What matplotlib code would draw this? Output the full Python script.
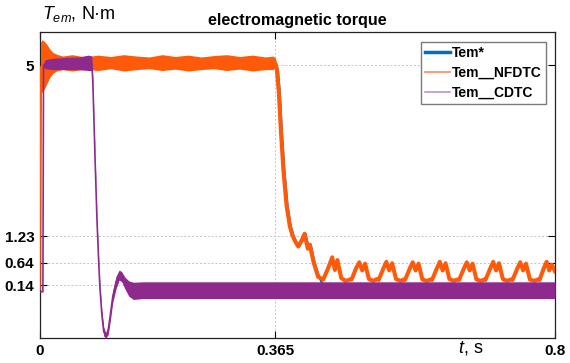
import matplotlib
matplotlib.use("Agg")
import matplotlib.pyplot as plt
from matplotlib.lines import Line2D

plt.rcParams['font.family'] = ['Liberation Sans', 'DejaVu Sans']
plt.rcParams['mathtext.fontset'] = 'custom'
plt.rcParams['mathtext.it'] = 'Liberation Sans:italic'
plt.rcParams['mathtext.rm'] = 'Liberation Sans'

# Tem* reference (mostly hidden under the other traces)
ref_t = [0.0, 0.001, 0.3665, 0.3695, 0.3725, 0.3755, 0.3795, 0.3845, 0.3895, 0.3935,
         0.3975, 0.4025, 0.4075, 0.4125, 0.4175, 0.4205, 0.4265, 0.4335, 0.441, 0.8]
ref_y = [0.0, 5.0, 5.05, 4.9, 4.4, 3.6, 2.7, 1.9, 1.45, 1.25,
         1.12, 1.0, 1.12, 1.28, 0.95, 1.04, 0.65, 0.33, 0.1, 0.1]

# Tem__NFDTC : ripple band before the load change
nf_band_t = [0.0, 0.0008, 0.003, 0.007, 0.011, 0.015, 0.02, 0.026, 0.035, 0.05,
             0.07, 0.09, 0.11, 0.13, 0.15, 0.17, 0.19, 0.21, 0.23, 0.25,
             0.27, 0.29, 0.31, 0.33, 0.35, 0.362, 0.366]
nf_band_hi = [0.1, 5.5, 5.56, 5.52, 5.45, 5.36, 5.28, 5.24, 5.2, 5.23,
              5.18, 5.22, 5.19, 5.23, 5.2, 5.18, 5.23, 5.19, 5.22, 5.18,
              5.21, 5.23, 5.19, 5.22, 5.18, 5.2, 5.15]
nf_band_lo = [0.0, 4.42, 4.4, 4.48, 4.6, 4.72, 4.82, 4.87, 4.9, 4.87,
              4.91, 4.88, 4.92, 4.87, 4.9, 4.92, 4.88, 4.91, 4.87, 4.9,
              4.92, 4.88, 4.91, 4.87, 4.9, 4.9, 4.95]

# Tem__NFDTC : after the load change
nf_t = [0.365, 0.368, 0.371, 0.374, 0.378, 0.383, 0.388, 0.392, 0.396, 0.401,
        0.406, 0.411, 0.416, 0.419, 0.425, 0.432, 0.440,
        0.447, 0.454, 0.458, 0.462, 0.468, 0.475, 0.481,
        0.484, 0.491, 0.496, 0.5005, 0.505, 0.511, 0.518, 0.523,
        0.526, 0.533, 0.538, 0.5425, 0.547, 0.553, 0.560, 0.565,
        0.567, 0.574, 0.579, 0.5835, 0.588, 0.594, 0.601, 0.606,
        0.609, 0.616, 0.621, 0.6255, 0.630, 0.636, 0.643, 0.648,
        0.651, 0.658, 0.663, 0.6675, 0.672, 0.678, 0.685, 0.690,
        0.692, 0.699, 0.704, 0.7085, 0.713, 0.719, 0.726, 0.731,
        0.734, 0.741, 0.746, 0.7505, 0.755, 0.761, 0.768, 0.773,
        0.776, 0.782, 0.787, 0.791, 0.795, 0.8]
nf_y = [5.05, 4.9, 4.4, 3.6, 2.7, 1.9, 1.45, 1.25, 1.12, 1.0,
        1.12, 1.28, 0.95, 1.04, 0.65, 0.33, 0.27,
        0.5, 0.76, 0.48, 0.70, 0.3, 0.24, 0.27,
        0.27, 0.52, 0.65, 0.47, 0.62, 0.28, 0.24, 0.28,
        0.26, 0.5, 0.66, 0.47, 0.63, 0.28, 0.24, 0.27,
        0.26, 0.5, 0.65, 0.47, 0.62, 0.27, 0.24, 0.27,
        0.26, 0.5, 0.66, 0.47, 0.63, 0.28, 0.24, 0.27,
        0.26, 0.5, 0.65, 0.47, 0.62, 0.27, 0.24, 0.27,
        0.26, 0.5, 0.66, 0.47, 0.63, 0.28, 0.24, 0.27,
        0.26, 0.5, 0.65, 0.47, 0.62, 0.27, 0.24, 0.27,
        0.26, 0.5, 0.66, 0.47, 0.6, 0.45]

# Tem__CDTC : envelope (upper / lower)
cd_t = [0.0, 0.0045, 0.0055, 0.008, 0.02, 0.04, 0.06, 0.075, 0.0805, 0.082,
        0.0855, 0.0885, 0.091, 0.093, 0.096, 0.099, 0.1025, 0.106, 0.109, 0.113,
        0.118, 0.123, 0.127, 0.132, 0.138, 0.145, 0.16, 0.2, 0.3, 0.4,
        0.5, 0.6, 0.7, 0.8]
cd_hi = [0.0, 0.0, 5.05, 5.12, 5.15, 5.17, 5.18, 5.22, 5.2, 4.72,
         3.02, 1.64, 0.78, 0.18, -0.4, -0.78, -0.92, -0.74, -0.42, 0.02,
         0.34, 0.48, 0.44, 0.32, 0.24, 0.21, 0.22, 0.22, 0.22, 0.22,
         0.22, 0.22, 0.22, 0.22]
cd_lo = [0.0, 0.0, 4.95, 4.92, 4.9, 4.9, 4.9, 4.88, 4.88, 4.58,
         2.88, 1.52, 0.66, 0.04, -0.58, -0.98, -1.02, -0.94, -0.66, -0.24,
         0.06, 0.26, 0.22, 0.06, -0.1, -0.17, -0.15, -0.15, -0.15, -0.15,
         -0.15, -0.15, -0.15, -0.15]

xticks = [0, 0.365, 0.8]
xtick_labels = ['0', '0.365', '0.8']
yticks = [0.14, 0.64, 1.23, 5]
ytick_labels = ['0.14', '0.64', '1.23', '5']

BLUE = '#0072BD'
ORANGE = '#FF5A0A'
PURPLE = '#8E2A8E'

fig = plt.figure(figsize=(5.7, 3.63), dpi=100)
ax = fig.add_axes([40 / 570, 1 - 338 / 363, 515 / 570, 306 / 363])

ax.plot(ref_t, ref_y, color=BLUE, lw=1.6, zorder=2)

ax.fill_between(nf_band_t, nf_band_lo, nf_band_hi, color=ORANGE, lw=0, zorder=3)
ax.plot(nf_band_t, [(a + b) / 2 for a, b in zip(nf_band_lo, nf_band_hi)],
        color=ORANGE, lw=1.0, zorder=3)
ax.plot(nf_t, nf_y, color=ORANGE, lw=2.9, zorder=3, solid_joinstyle='round')

ax.fill_between(cd_t, cd_lo, cd_hi, color=PURPLE, lw=0, zorder=4)
ax.plot(cd_t, [(a + b) / 2 for a, b in zip(cd_lo, cd_hi)],
        color=PURPLE, lw=1.2, zorder=4)

ax.set_xlim(0, 0.8)
ax.set_ylim(-1.02, 5.73)
ax.set_xticks(xticks)
ax.set_xticklabels(xtick_labels)
ax.set_yticks(yticks)
ax.set_yticklabels(ytick_labels)
ax.tick_params(direction='in', length=5, width=0.8, top=True, right=True,
               labelsize=11, pad=4)
for lab in ax.get_xticklabels() + ax.get_yticklabels():
    lab.set_fontweight('bold')
ax.grid(True, color='#c4c4c4', linestyle=(0, (2, 2)), lw=0.7)
for s in ax.spines.values():
    s.set_linewidth(0.9)
    s.set_color('#222222')

ax.set_title('electromagnetic torque', fontsize=11.6, fontweight='bold', pad=5)
fig.text(42 / 570, 1 - 14 / 363, r'$\mathit{T}_{\mathit{em}}$, N·m', fontsize=13,
         ha='left', va='center')
fig.text(471 / 570, 1 - 348 / 363, r'$\mathit{t}$, s', fontsize=13,
         ha='center', va='center')

handles = [Line2D([], [], color=BLUE, lw=2.5),
           Line2D([], [], color='#FF8A55', lw=1.2),
           Line2D([], [], color='#C28FCB', lw=1.2)]
labels = ['Tem*', 'Tem__NFDTC', 'Tem__CDTC']
leg = ax.legend(handles, labels, loc='upper right',
                bbox_to_anchor=((546 - 40) / 515, 1 - (42 - 32) / 306),
                borderaxespad=0, fancybox=False, framealpha=1,
                edgecolor='#7a7a7a', handlelength=1.8, handletextpad=0.15,
                labelspacing=0.42, borderpad=0.3,
                prop={'weight': 'bold', 'size': 10})
leg.get_frame().set_linewidth(1.0)

fig.savefig('out.png', dpi=100)
